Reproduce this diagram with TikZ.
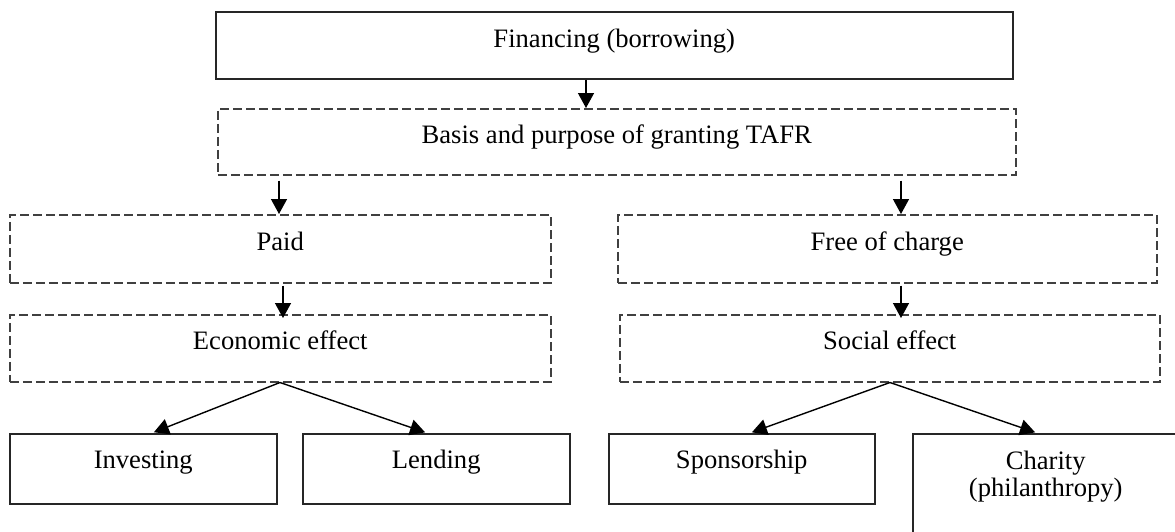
\documentclass[tikz,border=0pt]{standalone}
\usepackage{fontspec}
\setmainfont{Liberation Serif}
\usetikzlibrary{arrows.meta}
\begin{document}
\begin{tikzpicture}[x=1pt,y=-1pt,
  every node/.style={font=\fontsize{26.6}{27}\selectfont},
  solidbox/.style={draw=black!85, line width=1.5pt, anchor=north west, inner sep=0pt},
  dashbox/.style={draw=black!75, line width=1.5pt, dash pattern=on 9pt off 4pt, anchor=north west, inner sep=0pt},
  arr/.style={-{Triangle[length=15pt,width=16pt]}, line width=1.4pt, draw=black}]
\useasboundingbox (0,0) rectangle (1175,531);
\clip (0,0) rectangle (1175,531);

\node[solidbox, minimum width=797pt, minimum height=67pt, text height=36pt, text depth=31pt] (fin) at (215,11) {Financing (borrowing)};
\node[dashbox, minimum width=798pt, minimum height=66pt, text height=35pt, text depth=31pt] (basis) at (217,108) {Basis and purpose of granting TAFR};
\node[dashbox, minimum width=541pt, minimum height=68pt, text height=36pt, text depth=32pt] (paid) at (9,214) {Paid};
\node[dashbox, minimum width=539pt, minimum height=68pt, text height=36pt, text depth=32pt] (free) at (617,214) {Free of charge};
\node[dashbox, minimum width=541pt, minimum height=67pt, text height=35pt, text depth=32pt] (econ) at (9,314) {Economic effect};
\node[dashbox, minimum width=540pt, minimum height=67pt, text height=35pt, text depth=32pt] (social) at (619,314) {Social effect};
\node[solidbox, minimum width=267pt, minimum height=70pt, text height=35pt, text depth=35pt] (inv) at (9,433) {Investing};
\node[solidbox, minimum width=267pt, minimum height=70pt, text height=35pt, text depth=35pt] (lend) at (302,433) {Lending};
\node[solidbox, minimum width=266pt, minimum height=70pt, text height=35pt, text depth=35pt] (spon) at (608,433) {Sponsorship};
\node[solidbox, minimum width=266pt, minimum height=110pt, text height=36pt, text depth=74pt] (char) at (912,433) {\begin{tabular}[t]{@{}c@{}}Charity\\(philanthropy)\end{tabular}};

\coordinate (x1) at (586,0);
\coordinate (x2) at (279,0);
\coordinate (x3) at (901,0);
\coordinate (x4) at (283,0);
\coordinate (x5) at (280,0);
\coordinate (x6) at (152,0);
\coordinate (x7) at (427,0);
\coordinate (x8) at (890,0);
\coordinate (x9) at (750,0);
\coordinate (x10) at (1037,0);

\draw[arr] (fin.south -| x1) -- (basis.north -| x1);
\draw[arr, shorten <=5pt] (basis.south -| x2) -- (paid.north -| x2);
\draw[arr, shorten <=5pt] (basis.south -| x3) -- (free.north -| x3);
\draw[arr, shorten <=2pt, shorten >=-4pt] (paid.south -| x4) -- (econ.north -| x4);
\draw[arr, shorten <=2pt, shorten >=-4pt] (free.south -| x3) -- (social.north -| x3);
\draw[arr, shorten >=2pt] (econ.south -| x5) -- (inv.north -| x6);
\draw[arr, shorten >=2pt] (econ.south -| x5) -- (lend.north -| x7);
\draw[arr, shorten >=2pt] (social.south -| x8) -- (spon.north -| x9);
\draw[arr, shorten >=2pt] (social.south -| x8) -- (char.north -| x10);
\end{tikzpicture}
\end{document}
